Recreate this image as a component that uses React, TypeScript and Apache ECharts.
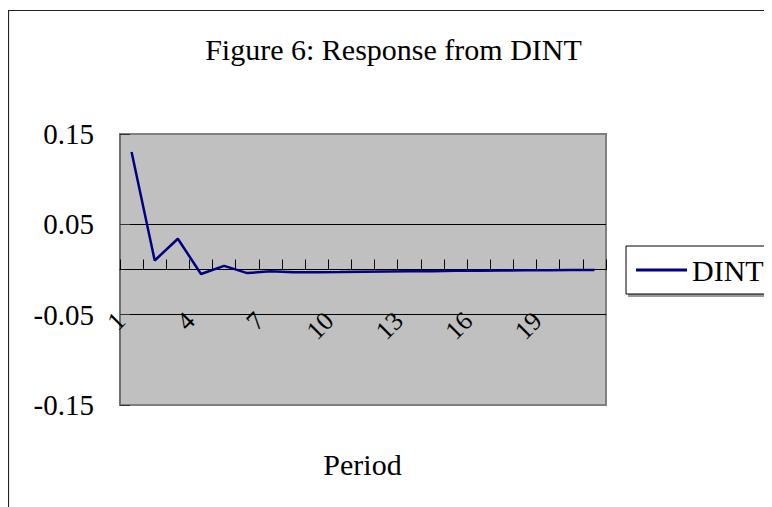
import React, { useEffect, useRef } from "react";
import * as echarts from "echarts";

const periods = ["1", "2", "3", "4", "5", "6", "7", "8", "9", "10", "11", "12", "13", "14", "15", "16", "17", "18", "19", "20", "21"];
const dintValues = [0.130, 0.010, 0.034, -0.005, 0.004, -0.004, -0.002, -0.003, -0.003, -0.0028, -0.0025, -0.0022, -0.002, -0.0018, -0.0015, -0.0013, -0.0011, -0.0009, -0.0007, -0.0006, -0.0005];
const yTicks = [-0.15, -0.05, 0.05, 0.15];
const titleText = "Figure 6: Response from DINT";
const xAxisTitle = "Period";
const seriesName = "DINT";

const FONT = "'Liberation Serif', 'Times New Roman', serif";

export default function App() {
  const ref = useRef<HTMLDivElement>(null);
  useEffect(() => {
    if (!ref.current) return;
    const chart = echarts.init(ref.current, null, { renderer: "svg" });
    chart.setOption({
      animation: false,
      backgroundColor: "#ffffff",
      graphic: [
        {
          type: "rect",
          z: 0,
          silent: true,
          shape: { x: 0.5, y: 2.5, width: 900, height: 900 },
          style: { fill: "none", stroke: "#222", lineWidth: 1.2 },
        },
        {
          type: "rect",
          z: 0,
          silent: true,
          shape: { x: 620, y: 240, width: 145, height: 49 },
          style: { fill: "#9a9a9a" },
        },
        {
          type: "text",
          z: 10,
          x: 385.5,
          y: 41.5,
          style: {
            text: titleText,
            font: `30px ${FONT}`,
            fill: "#000",
            textAlign: "center",
            textVerticalAlign: "middle",
          },
        },
        {
          type: "text",
          z: 10,
          x: 354.5,
          y: 456,
          style: {
            text: xAxisTitle,
            font: `30px ${FONT}`,
            fill: "#000",
            textAlign: "center",
            textVerticalAlign: "middle",
          },
        },
      ],
      legend: {
        left: 618,
        top: 238,
        orient: "vertical",
        padding: [9, 6, 9, 10],
        icon: "rect",
        itemWidth: 51,
        itemHeight: 3,
        itemGap: 0,
        backgroundColor: "#ffffff",
        borderColor: "#000",
        borderWidth: 1,
        z: 5,
        itemStyle: { color: "#000080", borderWidth: 0 },
        textStyle: { fontFamily: FONT, fontSize: 30, color: "#000", lineHeight: 30 },
        data: [seriesName],
      },
      grid: {
        left: 112,
        top: 126,
        width: 486,
        height: 271,
        show: true,
        backgroundColor: "#C0C0C0",
        borderColor: "#808080",
        borderWidth: 2,
        containLabel: false,
      },
      xAxis: {
        type: "category",
        data: periods,
        boundaryGap: true,
        axisLine: { show: true, onZero: true, lineStyle: { color: "#000", width: 1 } },
        axisTick: { show: true, inside: true, length: 10, interval: 0, lineStyle: { color: "#000", width: 1 } },
        axisLabel: {
          interval: 2,
          rotate: 45,
          margin: -99,
          padding: [0, 15, 0, 0],
          fontFamily: FONT,
          fontSize: 26,
          color: "#000",
        },
        splitLine: { show: false },
      },
      yAxis: {
        type: "value",
        min: -0.15,
        max: 0.15,
        interval: 0.05,
        axisLine: { show: true, onZero: false, lineStyle: { color: "#707070", width: 2 } },
        axisTick: { show: true, inside: true, length: 10, customValues: yTicks, lineStyle: { color: "#333", width: 1 } },
        axisLabel: {
          customValues: yTicks,
          margin: 26,
          padding: [6, 0, 0, 0],
          fontFamily: FONT,
          fontSize: 29,
          color: "#000",
          formatter: (v: number) => String(Math.round(v * 100) / 100),
        },
        splitLine: { show: true, showMinLine: false, showMaxLine: false, lineStyle: { color: "#000", width: 1 } },
      },
      series: [
        {
          name: seriesName,
          type: "line",
          data: dintValues,
          symbol: "none",
          showSymbol: false,
          lineStyle: { color: "#000080", width: 2.5 },
          itemStyle: { color: "#000080" },
          z: 3,
        },
      ],
    });
    return () => chart.dispose();
  }, []);
  return <div ref={ref} style={{ width: 764, height: 499 }} />;
}
